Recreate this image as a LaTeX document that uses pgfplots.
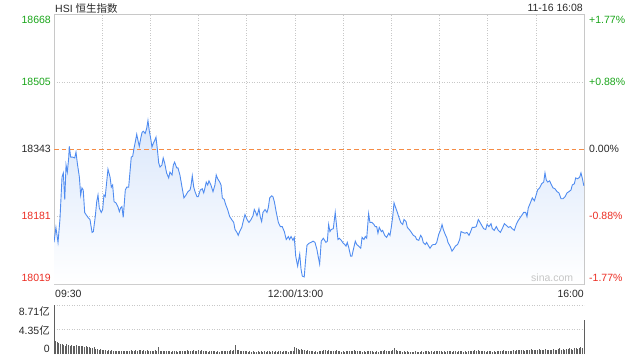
\documentclass[border=0pt]{standalone}
\usepackage{pgfplots}
\pgfplotsset{compat=1.18}
\usepackage{pgfplotstable}
\usepackage{fontspec}
\setmainfont{Liberation Sans}
\newfontfamily\cjk{Noto Sans CJK SC}
\definecolor{upg}{RGB}{26,165,26}
\definecolor{dnr}{RGB}{235,45,35}
\definecolor{txt}{RGB}{40,40,40}
\definecolor{linec}{RGB}{80,140,240}
\definecolor{fillc}{RGB}{218,231,251}
\definecolor{orangec}{RGB}{245,140,70}
\definecolor{gridc}{RGB}{200,200,200}
\definecolor{framec}{RGB}{200,200,200}
\definecolor{volc}{RGB}{95,95,95}
\newcommand\lab{\fontsize{10.5bp}{12bp}\selectfont}

\pgfplotstableread{
m p
0 18119
1.2 18155
2.5 18119
3.7 18174
5.0 18276
5.8 18286
6.7 18222
7.5 18305
8.3 18288
9.2 18324
9.5 18350
10.4 18324
11.6 18324
12.9 18322
13.7 18336
14.5 18310
15.8 18276
16.6 18233
17.4 18250
18.2 18245
19.1 18191
19.9 18186
21.2 18179
22.4 18174
23.7 18143
24.5 18145
25.7 18181
26.6 18217
27.4 18233
28.2 18202
29.4 18191
30.3 18198
31.1 18233
31.9 18229
32.8 18264
33.6 18295
34.9 18276
35.7 18252
36.5 18257
37.4 18217
38.6 18214
39.8 18205
40.7 18193
41.5 18202
42.3 18205
43.1 18179
44.4 18245
45.3 18252
46.5 18252
47.3 18288
48.1 18324
49.0 18326
49.8 18345
50.6 18360
51.5 18379
52.3 18364
53.1 18350
54.0 18369
54.8 18383
55.6 18386
56.8 18381
57.7 18393
58.5 18412
59.3 18388
60.2 18369
61.0 18348
61.8 18357
62.7 18364
63.5 18372
64.3 18345
65.2 18310
66.0 18300
67.2 18305
68.0 18322
68.9 18310
70.1 18286
71.4 18274
72.2 18288
73.5 18281
74.3 18305
75.1 18312
76.4 18298
77.2 18298
78.4 18281
79.7 18252
80.9 18226
82.2 18233
83.4 18241
84.7 18245
85.3 18255
86.1 18279
87.0 18252
87.8 18241
89.0 18229
89.8 18229
91.1 18245
92.3 18248
93.2 18238
94.0 18250
94.8 18264
95.7 18257
96.5 18267
97.7 18257
99.0 18241
100.2 18257
101.0 18281
101.9 18272
103.2 18264
104.0 18257
104.8 18226
106.0 18222
106.9 18210
108.1 18198
109.4 18181
110.6 18174
111.9 18167
112.7 18150
113.9 18143
114.7 18136
115.6 18145
116.9 18155
118.1 18174
118.9 18186
120.2 18174
121.4 18167
122.7 18174
123.9 18183
124.7 18198
125.6 18191
126.4 18183
127.6 18200
128.4 18181
129.3 18169
130.1 18191
131.4 18198
132.6 18191
133.4 18202
134.3 18226
135.5 18231
136.3 18229
137.2 18217
138.4 18191
139.7 18167
140.9 18157
142.1 18157
143.4 18145
144.6 18126
145.9 18133
146.7 18126
147.6 18133
148.8 18124
149.6 18131
150.5 18086
151.7 18062
153.0 18091
153.8 18055
154.6 18038
155.8 18036
156.7 18079
157.5 18112
158.8 18117
160.0 18119
161.3 18122
162.5 18119
163.7 18102
164.6 18083
165.4 18067
166.4 18122
167.7 18129
169.3 18119
170.2 18122
171.0 18162
171.8 18145
172.6 18150
173.9 18152
175.1 18191
176.0 18157
176.8 18126
177.6 18129
178.9 18124
180.1 18117
181.0 18114
181.8 18110
182.6 18119
183.5 18107
184.7 18086
185.5 18086
186.4 18102
187.6 18122
188.5 18114
189.7 18110
191.0 18105
191.8 18131
193.0 18126
193.8 18133
194.7 18129
195.9 18188
196.7 18167
198.0 18167
199.2 18162
200.0 18157
200.9 18157
201.7 18141
202.5 18155
203.8 18145
204.6 18148
205.9 18136
207.1 18131
208.4 18141
209.2 18136
210.0 18155
210.9 18181
211.7 18214
212.5 18205
213.8 18191
214.6 18181
215.9 18167
217.1 18162
217.9 18174
219.2 18169
220.0 18155
221.2 18150
222.5 18143
223.7 18136
225.0 18133
225.8 18126
227.1 18124
228.3 18136
229.1 18131
229.9 18119
231.2 18114
232.0 18119
233.3 18110
234.1 18105
235.3 18112
236.2 18114
237.4 18114
238.3 18119
239.5 18138
240.8 18150
241.6 18162
242.4 18150
243.6 18138
244.5 18131
245.3 18119
246.6 18110
247.8 18098
248.6 18102
249.9 18110
251.3 18114
252.6 18126
253.4 18145
254.6 18143
255.9 18141
257.1 18143
258.4 18136
259.2 18143
260.4 18155
261.7 18155
262.9 18157
264.2 18174
265.0 18169
266.3 18160
267.5 18152
268.8 18150
269.6 18162
270.8 18157
272.1 18164
272.9 18152
274.1 18148
275.4 18157
276.6 18148
277.9 18143
279.1 18152
280.4 18164
281.6 18160
282.9 18155
284.1 18157
285.3 18152
286.6 18148
287.8 18162
289.1 18172
290.3 18179
291.6 18186
292.4 18191
293.7 18191
294.5 18181
295.3 18202
296.6 18214
297.8 18226
299.1 18219
299.9 18229
301.1 18245
302.4 18250
303.6 18260
304.9 18264
305.7 18286
306.5 18269
307.4 18264
308.6 18267
309.4 18260
310.7 18250
311.9 18248
313.2 18241
314.4 18238
315.7 18224
316.9 18224
318.2 18229
319.4 18238
320.6 18241
321.9 18245
322.7 18257
324.0 18260
324.8 18274
326.1 18272
327.3 18276
328.1 18286
329.0 18272
329.9 18255
}\price

\pgfplotstableread[row sep=\\]{
v\\
2.1\\ 2.3\\ 2.2\\ 2.0\\ 1.8\\ 1.7\\ 1.6\\ 1.5\\ 1.7\\ 1.6\\
1.5\\ 1.6\\ 1.5\\ 1.4\\ 1.6\\ 1.5\\ 1.5\\ 1.4\\ 1.5\\ 1.3\\
1.4\\ 1.3\\ 1.2\\ 1.1\\ 1.0\\ 1.2\\ 0.9\\ 0.9\\ 0.8\\ 0.9\\
0.7\\ 0.8\\ 0.7\\ 0.6\\ 0.7\\ 0.6\\ 0.7\\ 0.5\\ 0.6\\ 0.6\\
0.5\\ 0.6\\ 0.5\\ 0.6\\ 0.5\\ 0.5\\ 0.6\\ 0.5\\ 0.7\\ 0.6\\
0.6\\ 0.7\\ 0.6\\ 0.8\\ 0.7\\ 0.6\\ 0.7\\ 0.6\\ 0.7\\ 0.6\\
0.6\\ 0.5\\ 0.6\\ 0.7\\ 0.6\\ 1.2\\ 0.6\\ 0.5\\ 0.6\\ 0.5\\
0.5\\ 0.6\\ 0.5\\ 0.4\\ 0.5\\ 0.6\\ 0.5\\ 0.4\\ 0.5\\ 0.5\\
0.5\\ 0.6\\ 0.5\\ 0.7\\ 0.6\\ 0.5\\ 0.6\\ 0.7\\ 0.6\\ 0.5\\
0.8\\ 0.6\\ 0.7\\ 0.5\\ 0.6\\ 0.5\\ 0.4\\ 0.5\\ 0.5\\ 0.6\\
0.5\\ 0.4\\ 0.5\\ 0.4\\ 0.5\\ 0.6\\ 0.5\\ 0.6\\ 0.5\\ 0.6\\
0.7\\ 0.6\\ 0.8\\ 1.6\\ 0.8\\ 0.7\\ 0.6\\ 0.5\\ 0.6\\ 0.5\\
0.5\\ 0.4\\ 0.5\\ 0.4\\ 0.5\\ 0.4\\ 0.4\\ 0.5\\ 0.4\\ 0.5\\
0.4\\ 0.5\\ 0.4\\ 0.5\\ 0.6\\ 0.4\\ 0.5\\ 0.4\\ 0.5\\ 0.4\\
0.5\\ 0.6\\ 0.4\\ 0.5\\ 0.6\\ 0.5\\ 0.4\\ 0.5\\ 0.5\\ 0.6\\
1.3\\ 1.0\\ 0.9\\ 0.8\\ 0.9\\ 0.7\\ 0.8\\ 0.6\\ 0.7\\ 0.5\\
0.6\\ 0.5\\ 0.4\\ 0.5\\ 0.4\\ 0.5\\ 0.6\\ 0.5\\ 0.7\\ 0.8\\
0.6\\ 0.7\\ 0.6\\ 0.5\\ 0.6\\ 0.5\\ 0.7\\ 0.6\\ 0.5\\ 0.4\\
0.5\\ 0.4\\ 0.5\\ 0.6\\ 0.5\\ 0.6\\ 0.5\\ 0.7\\ 0.6\\ 0.5\\
0.6\\ 0.5\\ 0.4\\ 0.5\\ 0.4\\ 0.6\\ 0.5\\ 0.6\\ 0.5\\ 0.4\\
0.4\\ 0.5\\ 0.4\\ 0.6\\ 0.5\\ 0.6\\ 0.7\\ 0.5\\ 0.6\\ 0.5\\
0.6\\ 0.8\\ 1.1\\ 0.7\\ 0.6\\ 0.5\\ 0.6\\ 0.4\\ 0.5\\ 0.4\\
0.5\\ 0.4\\ 0.4\\ 0.3\\ 0.4\\ 0.5\\ 0.4\\ 0.3\\ 0.4\\ 0.5\\
0.4\\ 0.5\\ 0.6\\ 0.5\\ 0.4\\ 0.5\\ 0.4\\ 0.5\\ 0.6\\ 0.5\\
0.6\\ 0.5\\ 0.4\\ 0.5\\ 0.4\\ 0.5\\ 0.6\\ 0.5\\ 0.4\\ 0.5\\
0.5\\ 0.4\\ 0.5\\ 0.6\\ 0.5\\ 0.4\\ 0.5\\ 0.4\\ 0.5\\ 0.6\\
0.5\\ 0.6\\ 0.7\\ 0.6\\ 0.8\\ 0.6\\ 0.5\\ 0.6\\ 0.5\\ 0.4\\
0.5\\ 0.6\\ 0.5\\ 0.4\\ 0.5\\ 0.4\\ 0.5\\ 0.6\\ 0.5\\ 0.6\\
0.7\\ 0.6\\ 0.5\\ 0.6\\ 0.5\\ 0.6\\ 0.7\\ 0.6\\ 0.7\\ 0.8\\
0.7\\ 0.8\\ 0.7\\ 0.6\\ 0.7\\ 0.8\\ 0.7\\ 0.9\\ 0.8\\ 0.7\\
0.8\\ 0.7\\ 0.9\\ 0.8\\ 0.7\\ 0.8\\ 0.9\\ 0.7\\ 0.8\\ 0.7\\
0.8\\ 0.9\\ 0.8\\ 0.7\\ 0.9\\ 1.0\\ 0.8\\ 0.9\\ 0.8\\ 0.9\\
0.9\\ 1.0\\ 0.9\\ 0.8\\ 1.0\\ 1.1\\ 0.9\\ 1.0\\ 1.2\\ 1.0\\
6.0\\
}\vol

\begin{document}
\begin{tikzpicture}[x=1bp,y=1bp]
\useasboundingbox (0,0) rectangle (640,360);
% main price axis
\begin{axis}[
  at={(54bp,76bp)}, anchor=south west,
  scale only axis, width=530bp, height=270bp,
  xmin=0, xmax=330, ymin=18019, ymax=18668,
  xtick={0,30,...,330}, ytick={18019,18181,18505,18668},
  xticklabels={}, yticklabels={},
  scaled y ticks=false, scaled x ticks=false,
  major tick length=0pt,
  grid=major,
  grid style={gridc, line width=0.6bp, dash pattern=on 1bp off 1.5bp},
  axis line style={framec, line width=0.8bp},
]
\addplot[draw=none, top color=fillc, bottom color=white, shading angle=0]
  table[x=m, y=p]{\price} -- (axis cs:329.9,18019) -- (axis cs:0,18019) -- cycle;
\addplot[orangec, line width=0.9bp, dash pattern=on 4.5bp off 3bp, forget plot]
  coordinates {(0,18343) (330,18343)};
\addplot[linec, line width=0.9bp] table[x=m, y=p]{\price};
\end{axis}
% volume axis
\begin{axis}[
  at={(54bp,6bp)}, anchor=south west,
  scale only axis, width=530bp, height=49bp,
  xmin=0, xmax=330, ymin=0, ymax=8.71,
  ytick={4.35,8.71}, xtick=\empty, yticklabels={},
  scaled y ticks=false,
  major tick length=0pt,
  ymajorgrids,
  grid style={gridc, line width=0.6bp, dash pattern=on 1bp off 1.5bp},
  axis x line=none,
  axis y line=left,
  y axis line style={-, color=volc, line width=0.8bp},
  clip=false,
]
\addplot[ycomb, volc, line width=0.9bp, mark=none] table[x expr=\coordindex, y=v]{\vol};
\end{axis}
% texts
\node[anchor=base west, text=txt, inner sep=0] at (55,347.5) {\lab HSI {\cjk 恒生指数}};
\node[anchor=base east, text=txt, inner sep=0] at (583,349) {\lab 11-16 16:08};
\node[anchor=base east, text=upg, inner sep=0] at (51,336.3) {\lab 18668};
\node[anchor=base east, text=upg, inner sep=0] at (51,274.3) {\lab 18505};
\node[anchor=base east, text=txt, inner sep=0] at (51,207.3) {\lab 18343};
\node[anchor=base east, text=dnr, inner sep=0] at (51,140.3) {\lab 18181};
\node[anchor=base east, text=dnr, inner sep=0] at (51,78.6) {\lab 18019};
\node[anchor=base west, text=upg, inner sep=0] at (589,336.3) {\lab +1.77\%};
\node[anchor=base west, text=upg, inner sep=0] at (589,274.3) {\lab +0.88\%};
\node[anchor=base west, text=txt, inner sep=0] at (589,207.3) {\lab 0.00\%};
\node[anchor=base west, text=dnr, inner sep=0] at (589,140.3) {\lab -0.88\%};
\node[anchor=base west, text=dnr, inner sep=0] at (589,78.6) {\lab -1.77\%};
\node[anchor=base west, text=txt, inner sep=0] at (55,63) {\lab 09:30};
\node[anchor=base, text=txt, inner sep=0] at (295.5,63) {\lab 12:00/13:00};
\node[anchor=base east, text=txt, inner sep=0] at (584,63) {\lab 16:00};
\node[anchor=base east, text=txt, inner sep=0] at (50,45) {\lab 8.71{\cjk 亿}};
\node[anchor=base east, text=txt, inner sep=0] at (50,26) {\lab 4.35{\cjk 亿}};
\node[anchor=base east, text=txt, inner sep=0] at (50,8) {\lab 0};
\node[anchor=base west, text=gray!45, inner sep=0] at (531,79) {\lab sina.com};
\end{tikzpicture}
\end{document}
